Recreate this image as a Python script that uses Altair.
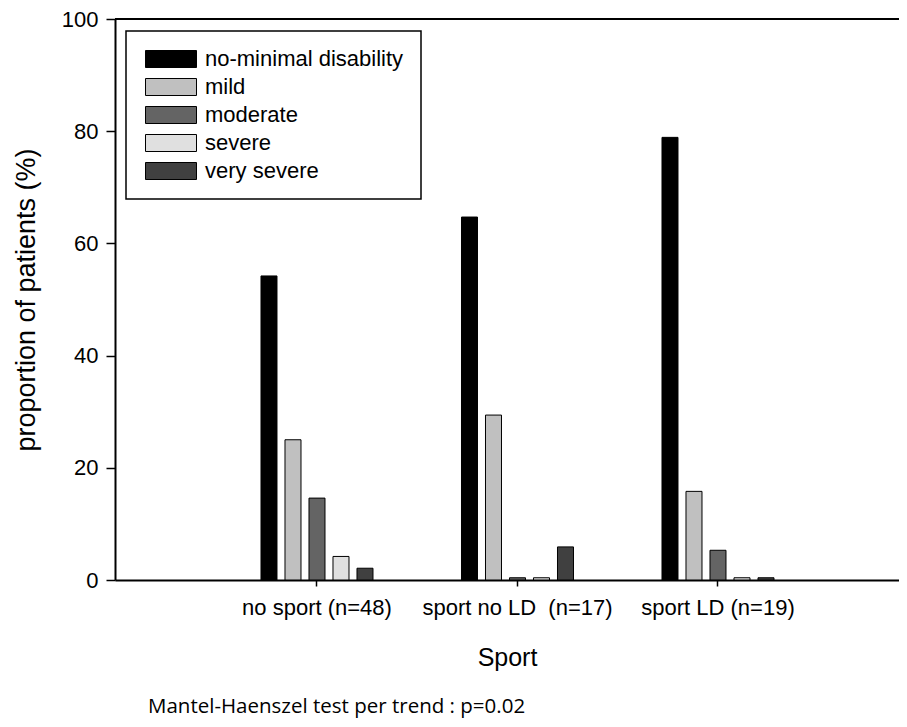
import altair as alt
import pandas as pd

groups = ["no sport (n=48)", "sport no LD\u00a0 (n=17)", "sport LD (n=19)"]
levels = ["no-minimal disability", "mild", "moderate", "severe", "very severe"]
colors = ["#000000", "#c0c0c0", "#646464", "#e0e0e0", "#404040"]
no_sport = [54.2, 25.0, 14.6, 4.2, 2.1]
sport_no_ld = [64.7, 29.4, 0.4, 0.4, 5.9]
sport_ld = [78.9, 15.8, 5.3, 0.4, 0.4]

rows = []
for g, vals in zip(groups, [no_sport, sport_no_ld, sport_ld]):
    for lv, v in zip(levels, vals):
        rows.append({"group": g, "level": lv, "value": v})
df = pd.DataFrame(rows)

W, H = 784, 561
FONT = "Liberation Sans"

bars = alt.Chart(df).mark_bar(stroke="black", strokeWidth=1).encode(
    x=alt.X("group:N", sort=groups,
            scale=alt.Scale(paddingInner=0.4414, paddingOuter=0.6758, align=0.5387),
            axis=alt.Axis(title="Sport", labelAngle=0, labelFont=FONT, labelFontSize=22,
                          labelColor="black", titleFont=FONT, titleFontSize=25,
                          titleFontWeight="normal", titleColor="black", titlePadding=27,
                          tickSize=6, tickColor="black", tickWidth=1.5, labelPadding=11,
                          labelLimit=0, domainColor="black", domainWidth=2)),
    xOffset=alt.XOffset("level:N", sort=levels,
                        scale=alt.Scale(paddingInner=0.3333, paddingOuter=0)),
    y=alt.Y("value:Q", scale=alt.Scale(domain=[0, 100], nice=False),
            axis=alt.Axis(title="proportion of patients (%)", values=[0, 20, 40, 60, 80, 100],
                          grid=False, labelFont=FONT, labelFontSize=22, labelColor="black",
                          titleFont=FONT, titleFontSize=27, titleFontWeight="normal",
                          titleColor="black", titlePadding=21, tickSize=9, tickColor="black",
                          tickWidth=1.5, labelPadding=8, domainColor="black", domainWidth=2)),
    color=alt.Color("level:N", sort=levels,
                    scale=alt.Scale(domain=levels, range=colors),
                    legend=alt.Legend(title=None, orient="none", legendX=11, legendY=12,
                                      symbolType="M-3,-1H3V1H-3Z", symbolSize=289,
                                      symbolStrokeColor="black", symbolStrokeWidth=1,
                                      symbolOffset=17, labelOffset=23, labelLimit=0,
                                      labelFont=FONT, labelFontSize=22, labelColor="black",
                                      rowPadding=6, padding=17, strokeColor="black")),
)

top_line = alt.Chart(pd.DataFrame({"v": [100]})).mark_rule(color="black", strokeWidth=2).encode(
    y="v:Q"
)

note = alt.Chart(pd.DataFrame({"t": ["Mantel-Haenszel test per trend : p=0.02"]})).mark_text(
    align="left", baseline="alphabetic", font="Open Sans", fontSize=20.5, color="black"
).encode(x=alt.value(33), y=alt.value(694), text="t:N")

chart = alt.layer(bars, top_line, note).properties(
    width=W, height=H,
    autosize=alt.AutoSizeParams(type="none"),
    padding={"left": 107, "top": 11, "right": 0, "bottom": 140},
).configure_view(stroke=None).configure_legend(strokeWidth=1.5)

chart.save("out.html", embed_options={"renderer": "svg", "actions": False})
